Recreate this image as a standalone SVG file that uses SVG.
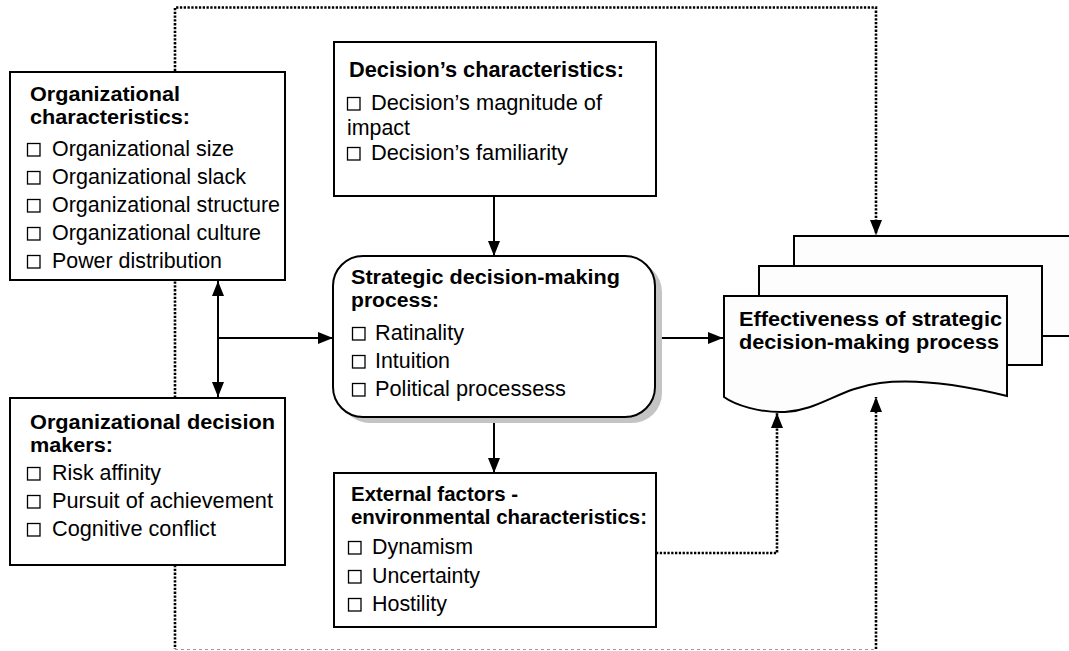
<svg xmlns="http://www.w3.org/2000/svg" width="1069" height="651" viewBox="0 0 1069 651">
  <defs>
    <style>
      .box { fill: #ffffff; stroke: #000000; stroke-width: 2; }
      .shadow { fill: #c4c4c4; stroke: none; }
      .doc { fill: #fdfdfd; stroke: #000000; stroke-width: 2; }
      .title { font-family: "Liberation Sans", Arial, sans-serif; font-weight: bold; font-size: 22.5px; fill: #000000; }
      .title2 { font-family: "Liberation Sans", Arial, sans-serif; font-weight: bold; font-size: 20px; fill: #000000; }
      .item { font-family: "Liberation Sans", Arial, sans-serif; font-size: 22.5px; fill: #000000; }
      .flow { fill: none; stroke: #000000; stroke-width: 2; }
      .dotted { fill: none; stroke: #000000; stroke-width: 2.6; stroke-dasharray: 2.3 1.5; }
      .faint { fill: none; stroke: #9a9a9a; stroke-width: 1.2; stroke-dasharray: 3 3; }
      .chk { fill: #ffffff; stroke: #000000; stroke-width: 1.3; }
    </style>
    <marker id="arrow" markerUnits="userSpaceOnUse" markerWidth="16" markerHeight="14" refX="15" refY="7" orient="auto-start-reverse">
      <path d="M0,1 L15,7 L0,13 Z" fill="#000000"/>
    </marker>
    <rect id="checkbox" x="0" y="0" width="12.5" height="12.5" class="chk"/>
  </defs>

  <!-- connectors -->
  <g id="connectors">
    <!-- feedback loop over the top into the rear document -->
    <path class="dotted" d="M175,565 V7.5 H876 V235" marker-end="url(#arrow)"/>
    <!-- loop under the bottom into the front document -->
    <path class="dotted" d="M175,565 V649"/>
    <path class="faint" d="M175,649.5 H876"/>
    <path class="dotted" d="M876,649 V397" marker-end="url(#arrow)"/>
    <!-- external factors into the outcome -->
    <path class="dotted" d="M656,553 H777 V413" marker-end="url(#arrow)"/>
    <!-- decision characteristics into the process -->
    <path class="flow" d="M494,196 V256" marker-end="url(#arrow)"/>
    <!-- process into external factors -->
    <path class="flow" d="M494,417 V473" marker-end="url(#arrow)"/>
    <!-- organisational links (two-way) -->
    <path class="flow" d="M218,281 V397" marker-start="url(#arrow)" marker-end="url(#arrow)"/>
    <path class="flow" d="M218,338 H333" marker-end="url(#arrow)"/>
    <!-- process into effectiveness -->
    <path class="flow" d="M655,338 H723" marker-end="url(#arrow)"/>
  </g>

  <!-- organisational characteristics -->
  <g id="org-characteristics">
    <rect class="box" x="10" y="72" width="275" height="208"/>
    <text class="title2" x="30" y="101" textLength="150" lengthAdjust="spacingAndGlyphs">Organizational</text>
    <text class="title2" x="30" y="123.5" textLength="160" lengthAdjust="spacingAndGlyphs">characteristics:</text>
    <use href="#checkbox" x="27.5" y="143.5"/>
    <text class="item" x="52" y="156" textLength="182" lengthAdjust="spacingAndGlyphs">Organizational size</text>
    <use href="#checkbox" x="27.5" y="171.5"/>
    <text class="item" x="52" y="184" textLength="194" lengthAdjust="spacingAndGlyphs">Organizational slack</text>
    <use href="#checkbox" x="27.5" y="199.5"/>
    <text class="item" x="52" y="212" textLength="228" lengthAdjust="spacingAndGlyphs">Organizational structure</text>
    <use href="#checkbox" x="27.5" y="227.5"/>
    <text class="item" x="52" y="240" textLength="209" lengthAdjust="spacingAndGlyphs">Organizational culture</text>
    <use href="#checkbox" x="27.5" y="255.5"/>
    <text class="item" x="52" y="268" textLength="170" lengthAdjust="spacingAndGlyphs">Power distribution</text>
  </g>

  <!-- decision characteristics -->
  <g id="decision-characteristics">
    <rect class="box" x="334" y="42" width="322" height="154"/>
    <text class="title" x="349" y="77" textLength="275" lengthAdjust="spacingAndGlyphs">Decision’s characteristics:</text>
    <use href="#checkbox" x="347.5" y="97.5"/>
    <text class="item" x="371" y="110" textLength="231" lengthAdjust="spacingAndGlyphs">Decision’s magnitude of</text>
    <text class="item" x="347" y="135" textLength="63" lengthAdjust="spacingAndGlyphs">impact</text>
    <use href="#checkbox" x="347.5" y="147.5"/>
    <text class="item" x="371" y="160" textLength="197" lengthAdjust="spacingAndGlyphs">Decision’s familiarity</text>
  </g>

  <!-- strategic decision-making process -->
  <g id="strategic-process">
    <rect class="shadow" x="340" y="262" width="322" height="161" rx="30" ry="30"/>
    <rect class="box" x="333" y="256" width="322" height="161" rx="30" ry="30"/>
    <text class="title2" x="351" y="284" textLength="269" lengthAdjust="spacingAndGlyphs">Strategic decision-making</text>
    <text class="title2" x="351" y="306.5" textLength="88" lengthAdjust="spacingAndGlyphs">process:</text>
    <use href="#checkbox" x="352.5" y="327.5"/>
    <text class="item" x="375" y="340" textLength="89" lengthAdjust="spacingAndGlyphs">Ratinality</text>
    <use href="#checkbox" x="352.5" y="355.5"/>
    <text class="item" x="375" y="368" textLength="75" lengthAdjust="spacingAndGlyphs">Intuition</text>
    <use href="#checkbox" x="352.5" y="383.5"/>
    <text class="item" x="375" y="396" textLength="191" lengthAdjust="spacingAndGlyphs">Political processess</text>
  </g>

  <!-- organisational decision makers -->
  <g id="org-decision-makers">
    <rect class="box" x="10" y="398" width="275" height="167"/>
    <text class="title2" x="30" y="429" textLength="245" lengthAdjust="spacingAndGlyphs">Organizational decision</text>
    <text class="title2" x="30" y="451.5" textLength="83" lengthAdjust="spacingAndGlyphs">makers:</text>
    <use href="#checkbox" x="27.5" y="467.5"/>
    <text class="item" x="52" y="480" textLength="109" lengthAdjust="spacingAndGlyphs">Risk affinity</text>
    <use href="#checkbox" x="27.5" y="495.5"/>
    <text class="item" x="52" y="508" textLength="221" lengthAdjust="spacingAndGlyphs">Pursuit of achievement</text>
    <use href="#checkbox" x="27.5" y="523.5"/>
    <text class="item" x="52" y="536" textLength="164" lengthAdjust="spacingAndGlyphs">Cognitive conflict</text>
  </g>

  <!-- external factors -->
  <g id="external-factors">
    <rect class="box" x="334" y="473" width="322" height="154"/>
    <text class="title2" x="351" y="501" textLength="167" lengthAdjust="spacingAndGlyphs">External factors -</text>
    <text class="title2" x="351" y="523.5" textLength="296" lengthAdjust="spacingAndGlyphs">environmental characteristics:</text>
    <use href="#checkbox" x="348.5" y="541.5"/>
    <text class="item" x="372" y="554" textLength="101" lengthAdjust="spacingAndGlyphs">Dynamism</text>
    <use href="#checkbox" x="348.5" y="570.5"/>
    <text class="item" x="372" y="583" textLength="108" lengthAdjust="spacingAndGlyphs">Uncertainty</text>
    <use href="#checkbox" x="348.5" y="598.5"/>
    <text class="item" x="372" y="611" textLength="75" lengthAdjust="spacingAndGlyphs">Hostility</text>
  </g>

  <!-- effectiveness: stacked documents -->
  <g id="effectiveness">
    <rect class="doc" x="794" y="236" width="290" height="100"/>
    <rect class="doc" x="759" y="266" width="283" height="99"/>
    <path class="doc" d="M724,296 H1007 V396 C970,387 920,378 880,383 C840,388 820,410 785,412 C760,413 735,405 724,397 Z"/>
    <text class="title2" x="739" y="326" textLength="263" lengthAdjust="spacingAndGlyphs">Effectiveness of strategic</text>
    <text class="title2" x="739" y="348.5" textLength="260" lengthAdjust="spacingAndGlyphs">decision-making process</text>
  </g>
</svg>
